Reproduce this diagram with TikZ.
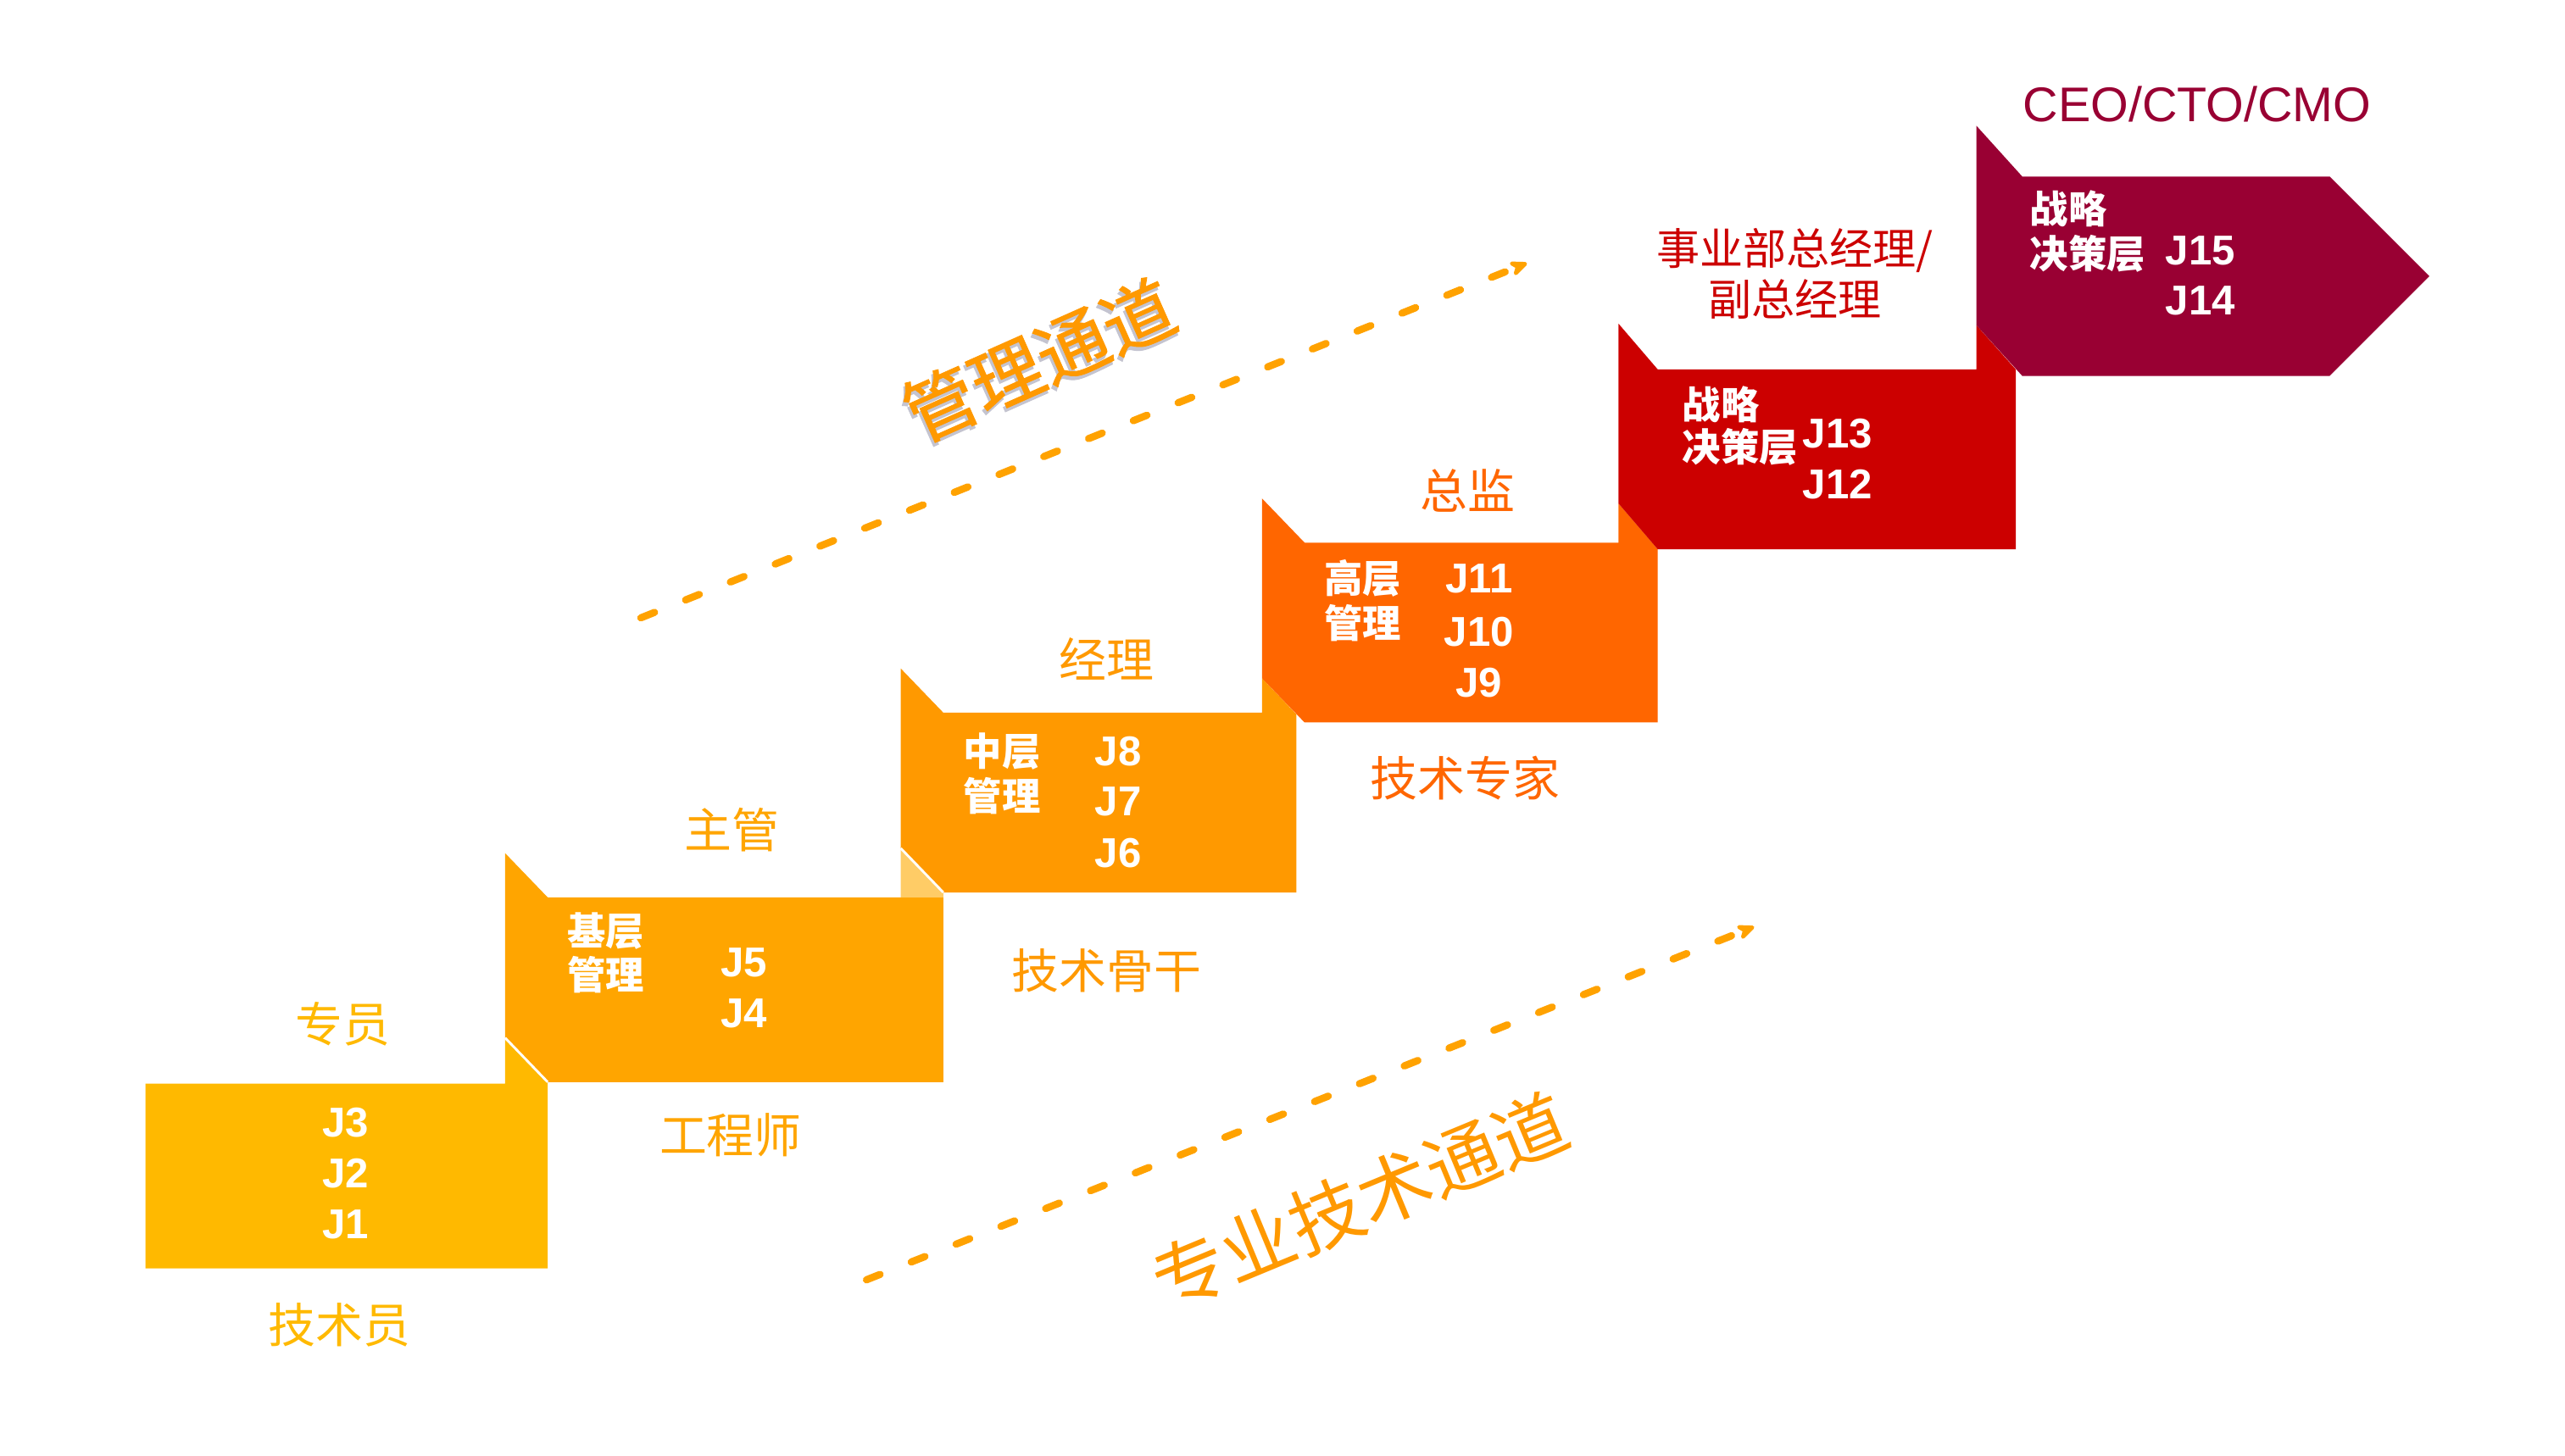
\documentclass[tikz,border=0pt]{standalone}
\usepackage{fontspec}
\setmainfont{Liberation Sans}
\newfontfamily\cjk{Noto Sans CJK SC}
\newfontfamily\cjkm[FakeBold=1]{Noto Sans CJK SC}
\usetikzlibrary{arrows.meta}
\definecolor{cA}{HTML}{FFB900}
\definecolor{cB}{HTML}{FFA500}
\definecolor{cC}{HTML}{FF9900}
\definecolor{cD}{HTML}{FF6600}
\definecolor{cE}{HTML}{CC0000}
\definecolor{cF}{HTML}{990033}
\definecolor{cFold}{HTML}{FFCC66}
\definecolor{cArr}{HTML}{FFA200}
\definecolor{cShadow}{HTML}{C4C4D0}
\begin{document}
\begin{tikzpicture}[x=1pt,y=-1pt,
  lbl/.style={inner sep=0pt,font=\cjk\fontsize{29}{29}\selectfont},
  lblr/.style={inner sep=0pt,font=\cjk\fontsize{26.5}{26.5}\selectfont,text=cE},
  wcj/.style={inner sep=0pt,text=white,font=\cjk\bfseries\fontsize{23.5}{23.5}\selectfont},
  wj/.style={inner sep=0pt,text=white,font=\bfseries\fontsize{25.5}{25.5}\selectfont},
  chan/.style={draw=cArr,line width=4.4pt,line cap=round,dash pattern=on 9pt off 20.5pt,
    -{Stealth[length=14pt,width=12pt,round]}},
  chantext/.style={inner sep=0pt,text=cC},
  sep/.style={draw=white,line width=1.5pt}
]
\fill[white] (0,0) rectangle (1569,890.3);
\useasboundingbox (0,0) rectangle (1569,890.3);

% box 1
\fill[cA] (89,663) -- (309,663) -- (309,635) -- (335,662) -- (335,776) -- (89,776) -- cycle;
% box 2
\fill[cB] (309,522) -- (335,549) -- (577,549) -- (577,662) -- (335,662) -- (309,635) -- cycle;
\fill[cFold] (551,549) -- (551,519) -- (577,546) -- (577,549) -- cycle;
\draw[sep] (309,635) -- (335,662);
% box 3
\fill[cC] (551,409) -- (577,436) -- (772,436) -- (772,415) -- (793,437) -- (793,546) -- (577,546) -- (551,519) -- cycle;
\draw[sep] (551,519) -- (577,546);
% box 4
\fill[cD] (772,305) -- (798,332) -- (990,332) -- (990,308) -- (1014,336) -- (1014,442) -- (798,442) -- (772,415) -- cycle;
% box 5
\fill[cE] (990,198) -- (1014,226) -- (1209,226) -- (1209,199) -- (1233,226) -- (1233,336) -- (1014,336) -- (990,308) -- cycle;
% box 6 (arrow)
\fill[cF] (1209,77) -- (1237,108) -- (1425,108) -- (1486,169) -- (1425,230) -- (1237,230) -- (1209,199) -- cycle;

% box texts
\node[wj] (j3) at (211.5,687) {J3};
\node[wj] (j2) at (211.5,718) {J2};
\node[wj] (j1) at (211.5,749) {J1};

\node[wcj] (b2a) at (370.6,569.4) {基层};
\node[wcj] (b2b) at (370.6,596.3) {管理};
\node[wj] (j5) at (455,589) {J5};
\node[wj] (j4) at (455,620) {J4};

\node[wcj] (b3a) at (613,459.5) {中层};
\node[wcj] (b3b) at (613,487) {管理};
\node[wj] (j8) at (684,459.5) {J8};
\node[wj] (j7) at (684,490.5) {J7};
\node[wj] (j6) at (684,522) {J6};

\node[wcj] (b4a) at (833.7,354) {高层};
\node[wcj] (b4b) at (833.7,381.4) {管理};
\node[wj] (j11) at (904.7,354) {J11};
\node[wj] (j10) at (904.7,386.6) {J10};
\node[wj] (j9) at (904.7,417.5) {J9};

\node[wcj,anchor=west] (b5a) at (1029,247.5) {战略};
\node[wcj,anchor=west] (b5b) at (1029,273.5) {决策层};
\node[wj] (j13) at (1124,265.4) {J13};
\node[wj] (j12) at (1124,296.3) {J12};

\node[wcj,anchor=west] (b6a) at (1241.6,127.5) {战略};
\node[wcj,anchor=west] (b6b) at (1241.6,155) {决策层};
\node[wj] (j15) at (1346,153.3) {J15};
\node[wj] (j14) at (1346,184) {J14};

% labels
\node[lbl,text=cA] (l1t) at (209.8,626.4) {专员};
\node[lbl,text=cA] (l1b) at (207.5,810.4) {技术员};
\node[lbl,text=cB] (l2t) at (447.6,507.8) {主管};
\node[lbl,text=cB] (l2b) at (446.9,694.6) {工程师};
\node[lbl,text=cC] (l3t) at (677,403) {经理};
\node[lbl,text=cC] (l3b) at (677,594) {技术骨干};
\node[lbl,text=cD] (l4t) at (898,300) {总监};
\node[lbl,text=cD] (l4b) at (896.4,476) {技术专家};
\node[lblr] (l5a) at (1098,153) {事业部总经理/};
\node[lblr] (l5b) at (1098,183) {副总经理};
\node[inner sep=0pt,text=cF,font=\fontsize{29.8}{29.8}\selectfont] (l6) at (1344,64) {CEO/CTO/CMO};

% channels
\coordinate (m0) at (392,378);
\coordinate (m1) at (934,161);
\draw[chan] (m0) -- (m1);
\coordinate (t0) at (530,783);
\coordinate (t1) at (1073,567);
\draw[chan] (t0) -- (t1);

\node[chantext,font=\cjkm\fontsize{44}{44}\selectfont,rotate=24] (mg) at (636,221)
  {\rlap{\kern-1.8pt\raisebox{-1.8pt}{\textcolor{cShadow}{管理通道}}}管理通道};
\node[chantext,font=\cjk\fontsize{45}{45}\selectfont,rotate=22.5] (pt) at (832,735) {专业技术通道};
\end{tikzpicture}
\end{document}
